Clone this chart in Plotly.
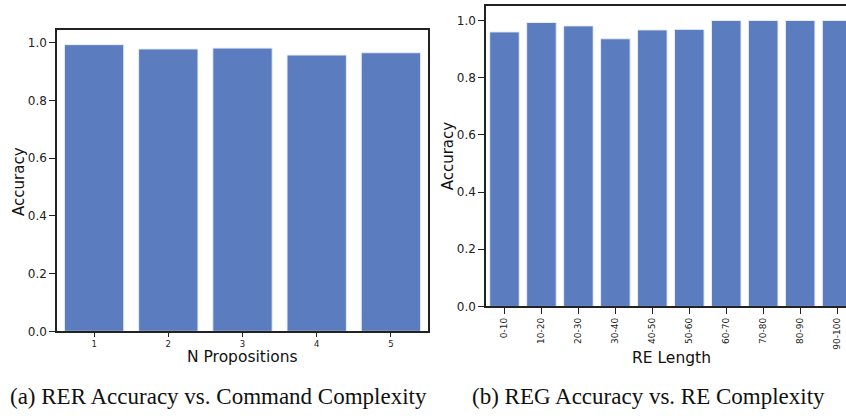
import plotly.graph_objects as go

# Data
n_props = ["1", "2", "3", "4", "5"]
rer_acc = [0.993, 0.978, 0.981, 0.957, 0.965]

re_len = ["0-10", "10-20", "20-30", "30-40", "40-50", "50-60", "60-70", "70-80", "80-90", "90-100"]
reg_acc = [0.960, 0.993, 0.981, 0.936, 0.967, 0.969, 1.0, 1.0, 1.0, 1.0]

y_ticks = [0.0, 0.2, 0.4, 0.6, 0.8, 1.0]
y_ticklabels = ["0.0", "0.2", "0.4", "0.6", "0.8", "1.0"]

W, H = 846, 416
BAR = "#5b7dbf"
FRAME = "#222222"
SANS = "DejaVu Sans"
SERIF = "Liberation Serif"

fig = go.Figure()
fig.add_trace(go.Bar(x=n_props, y=rer_acc, xaxis="x", yaxis="y", width=0.8,
                     marker=dict(color=BAR, line=dict(color="#e8edf7", width=1))))
fig.add_trace(go.Bar(x=re_len, y=reg_acc, xaxis="x2", yaxis="y2", width=0.8,
                     marker=dict(color=BAR, line=dict(color="#e8edf7", width=1))))

def px_x(p):
    return p / W

def px_y(p):
    return (H - p) / H

common_y = dict(tickvals=y_ticks, ticktext=y_ticklabels, ticks="outside", ticklen=6,
                tickwidth=1.2, tickcolor=FRAME, showgrid=False, zeroline=False,
                showline=True, linecolor=FRAME, linewidth=1.5,
                tickfont=dict(family=SANS, size=12, color="#222"))

fig.update_layout(
    width=W, height=H, margin=dict(l=0, r=0, t=0, b=0),
    paper_bgcolor="white", plot_bgcolor="white", showlegend=False, bargap=0.2,
    xaxis=dict(domain=[px_x(57), px_x(428)], range=[-0.5, 4.5], anchor="y",
               type="category", ticks="outside", ticklen=4, tickwidth=1, tickcolor=FRAME,
               showline=True, mirror=True, linecolor=FRAME, linewidth=1.5, showgrid=False,
               tickfont=dict(family=SANS, size=8.5, color="#222")),
    yaxis=dict(domain=[px_y(337), px_y(31)], range=[0, 1.042], anchor="x", mirror=True,
               **common_y),
    xaxis2=dict(domain=[px_x(486), 1.0], range=[-0.5, 9.24], anchor="y2",
                type="category", ticks="outside", ticklen=6, tickwidth=1.2, tickcolor=FRAME,
                tickangle=-90, ticklabeloverflow="allow", showline=True, mirror=True,
                linecolor=FRAME, linewidth=1.5,
                showgrid=False, tickfont=dict(family=SANS, size=9, color="#222")),
    yaxis2=dict(domain=[px_y(311.7), px_y(5.7)], range=[0, 1.052], anchor="x2",
                **common_y),
)

annotations = [
    dict(text="Accuracy", x=px_x(19), y=px_y(185), textangle=-90,
         font=dict(family=SANS, size=15, color="#111")),
    dict(text="N Propositions", x=px_x(242), y=px_y(363),
         font=dict(family=SANS, size=15.5, color="#111")),
    dict(text="Accuracy", x=px_x(448), y=px_y(159), textangle=-90,
         font=dict(family=SANS, size=15, color="#111")),
    dict(text="RE Length", x=px_x(671), y=px_y(364),
         font=dict(family=SANS, size=15.5, color="#111")),
    dict(text="(a) RER Accuracy vs. Command Complexity", x=px_x(218), y=px_y(403),
         font=dict(family=SERIF, size=23, color="#111")),
    dict(text="(b) REG Accuracy vs. RE Complexity", x=px_x(648), y=px_y(403),
         font=dict(family=SERIF, size=23, color="#111")),
]
for a in annotations:
    a.update(xref="paper", yref="paper", showarrow=False, xanchor="center", yanchor="middle")
fig.update_layout(annotations=annotations)

fig.write_html("out.html", config={"displayModeBar": False},
               post_script="document.body.style.margin='0';")
